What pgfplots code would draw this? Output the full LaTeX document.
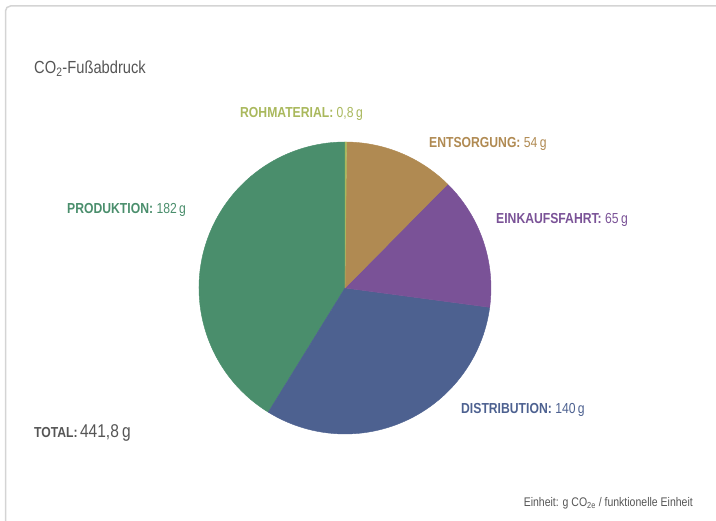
\documentclass[border=0pt]{standalone}
\usepackage{pgfplots}
\pgfplotsset{compat=1.18}
\usepackage{fontspec}
\setmainfont{Liberation Sans}[FakeStretch=0.84]

\definecolor{cRoh}{HTML}{A9B85C}
\definecolor{cEnt}{HTML}{B08A52}
\definecolor{cEin}{HTML}{7A5297}
\definecolor{cDis}{HTML}{4D6190}
\definecolor{cPro}{HTML}{4A8E6C}
\definecolor{txtgray}{HTML}{555555}
\definecolor{frame}{HTML}{D4D4D4}

% values in g CO2e
\def\vRoh{0.8}
\def\vEnt{54}
\def\vEin{65}
\def\vDis{140}
\def\vPro{182}

\pgfmathsetmacro{\tot}{\vRoh+\vEnt+\vEin+\vDis+\vPro}
\pgfmathsetmacro{\aA}{90}
\pgfmathsetmacro{\aB}{\aA-360*(\vRoh/\tot)}
\pgfmathsetmacro{\aC}{\aB-360*(\vEnt/\tot)}
\pgfmathsetmacro{\aD}{\aC-360*(\vEin/\tot)}
\pgfmathsetmacro{\aE}{\aD-360*(\vDis/\tot)}
\pgfmathsetmacro{\aF}{\aE-360*(\vPro/\tot)}

\newcommand{\lab}{\fontsize{14.5}{16}\selectfont}

\begin{document}
\begin{tikzpicture}
\useasboundingbox (0,0) rectangle (716pt,521pt);
\begin{axis}[
    at={(0,0)}, anchor=origin,
    width=716pt, height=521pt, scale only axis,
    xmin=0, xmax=716, ymin=0, ymax=521,
    hide axis, clip=false,
]
% card frame
\draw[frame, line width=1.5pt, rounded corners=5pt]
    (axis cs:5.5,0) -- (axis cs:5.5,515) -- (axis cs:716,515);

% pie (slices in reverse so the thin one stays on top)
\def\cx{345}\def\cy{233}\def\r{146pt}
\filldraw[cPro, line width=0.4pt] (axis cs:\cx,\cy) -- ++(\aE:\r) arc[start angle=\aE, end angle=\aF, radius=\r] -- cycle;
\filldraw[cDis, line width=0.4pt] (axis cs:\cx,\cy) -- ++(\aD:\r) arc[start angle=\aD, end angle=\aE, radius=\r] -- cycle;
\filldraw[cEin, line width=0.4pt] (axis cs:\cx,\cy) -- ++(\aC:\r) arc[start angle=\aC, end angle=\aD, radius=\r] -- cycle;
\filldraw[cEnt, line width=0.4pt] (axis cs:\cx,\cy) -- ++(\aB:\r) arc[start angle=\aB, end angle=\aC, radius=\r] -- cycle;
\filldraw[cRoh, line width=0.4pt] (axis cs:\cx,\cy) -- ++(\aA:\r) arc[start angle=\aA, end angle=\aB, radius=\r] -- cycle;

% texts
\node[anchor=base west, text=txtgray, inner sep=0pt, font=\fontsize{17.5}{19}\selectfont]
    at (axis cs:34,447) {CO\textsubscript{2}-Fußabdruck};
\node[anchor=base west, text=cRoh, inner sep=0pt, font=\lab]
    at (axis cs:240,403) {\textbf{ROHMATERIAL:} 0,8\,g};
\node[anchor=base west, text=cEnt, inner sep=0pt, font=\lab]
    at (axis cs:429,373) {\textbf{ENTSORGUNG:} 54\,g};
\node[anchor=base west, text=cPro, inner sep=0pt, font=\lab]
    at (axis cs:67,307) {\textbf{PRODUKTION:} 182\,g};
\node[anchor=base west, text=cEin, inner sep=0pt, font=\lab]
    at (axis cs:496,297) {\textbf{EINKAUFSFAHRT:} 65\,g};
\node[anchor=base west, text=cDis, inner sep=0pt, font=\lab]
    at (axis cs:461,107) {\textbf{DISTRIBUTION:} 140\,g};
\node[anchor=base west, text=txtgray, inner sep=0pt]
    at (axis cs:34,83) {{\lab\bfseries TOTAL:} {\fontsize{18.5}{20}\selectfont 441,8\,g}};
\node[anchor=base east, text=txtgray, inner sep=0pt, font=\fontsize{12.5}{14}\selectfont]
    at (axis cs:693,14) {Einheit: g CO\textsubscript{2e} / funktionelle Einheit};
\end{axis}
\end{tikzpicture}
\end{document}
